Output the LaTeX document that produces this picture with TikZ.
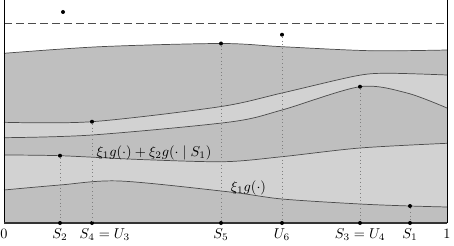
\documentclass[tikz,border=0pt]{standalone}
\usepackage{amsmath}
\usepackage{amssymb}
\usetikzlibrary{positioning}

\tikzset{
  dot/.style={circle, fill=black, inner sep=0pt, minimum size=2.8pt},
  bandline/.style={draw=black!70, line width=0.5pt},
  guide/.style={dotted, gray, line width=0.6pt},
  ticklab/.style={inner sep=1pt, text height=1.5ex, text depth=.25ex},
  darkband/.style={fill=gray!50},
  lightband/.style={fill=gray!35}
}

\begin{document}
\begin{tikzpicture}[x=0.7pt, y=0.7pt]
\def\xmax{443}
\def\ytop{223}
\def\ydash{200}
\def\curveA{plot[smooth] coordinates {(0,33) (56,38) (116,42) (226,31) (278,24) (356,19) (406,17) (443,16)}}
\def\curveB{plot[smooth] coordinates {(0,68) (56,67.3) (136,63.5) (220,61.3) (278,66.3) (356,75) (443,79.7)}}
\def\curveC{plot[smooth] coordinates {(0,85.3) (88,88) (226,101) (278,113) (356,136.3) (403,130) (443,115)}}
\def\curveD{plot[smooth] coordinates {(0,100.7) (88,101.3) (216,116.3) (278,130) (353,147.3) (386,149.7) (443,148)}}
\def\curveE{plot[smooth] coordinates {(0,169.7) (96,176.3) (217,179.5) (278,176.3) (366,172.3) (443,173)}}

\useasboundingbox (-4,-22) rectangle (450,\ytop);

\coordinate (O) at (0,0);
\coordinate (R) at (\xmax,0);
\coordinate (OT) at (0,\ytop);
\coordinate (RT) at (\xmax,\ytop);
\coordinate (dashL) at (0,\ydash);
\coordinate (dashR) at (\xmax,\ydash);

\fill[darkband] \curveE -- (R) -- (O) -- cycle;
\fill[lightband] \curveD -- (R) -- (O) -- cycle;
\fill[darkband] \curveC -- (R) -- (O) -- cycle;
\fill[lightband] \curveB -- (R) -- (O) -- cycle;
\fill[darkband] \curveA -- (R) -- (O) -- cycle;

\draw[bandline] \curveA;
\draw[bandline] \curveB;
\draw[bandline] \curveC;
\draw[bandline] \curveD;
\draw[bandline] \curveE;

\draw[dash pattern=on 5.6pt off 2.8pt, black!70] (dashL) -- (dashR);
\draw[black, line width=0.6pt] (OT) -- (O);
\draw[black, line width=0.6pt] (RT) -- (R);
\draw[black!80, line width=1pt] (O) -- (R);

\node[dot] (P0) at (59,211) {};
\node[dot] (S2top) at (56,67.3) {};
\node[dot] (S4top) at (88,101.3) {};
\node[dot] (S5top) at (217,179.5) {};
\node[dot] (U6top) at (278,188.3) {};
\node[dot] (S3top) at (356,136.3) {};
\node[dot] (S1top) at (406,17) {};

\node[dot] (S2) at (56,0) {};
\node[dot] (S4) at (88,0) {};
\node[dot] (S5) at (217,0) {};
\node[dot] (U6) at (278,0) {};
\node[dot] (S3) at (356,0) {};
\node[dot] (S1) at (406,0) {};

\draw[guide] (S2top) -- (S2);
\draw[guide] (S4top) -- (S4);
\draw[guide] (S5top) -- (S5);
\draw[guide] (U6top) -- (U6);
\draw[guide] (S3top) -- (S3);
\draw[guide] (S1top) -- (S1);

\node[ticklab, below=2.9pt of O] (labO) {$0$};
\node[ticklab, below=2.9pt of R] (labR) {$1$};
\node[ticklab, below=1.5pt of S2] (labS2) {$S_2$};
\node[ticklab, below=1.5pt of S4, xshift=9pt] (labS4) {$S_4 = U_3$};
\node[ticklab, below=1.5pt of S5] (labS5) {$S_5$};
\node[ticklab, below=1.5pt of U6] (labU6) {$U_6$};
\node[ticklab, below=1.5pt of S3] (labS3) {$S_3 = U_4$};
\node[ticklab, below=1.5pt of S1] (labS1) {$S_1$};

\node (mixlab) at (150,70) {$\xi_1 g(\cdot) + \xi_2 g(\cdot \mid S_1)$};
\node (baselab) at (244.5,35) {$\xi_1 g(\cdot)$};
\end{tikzpicture}
\end{document}
